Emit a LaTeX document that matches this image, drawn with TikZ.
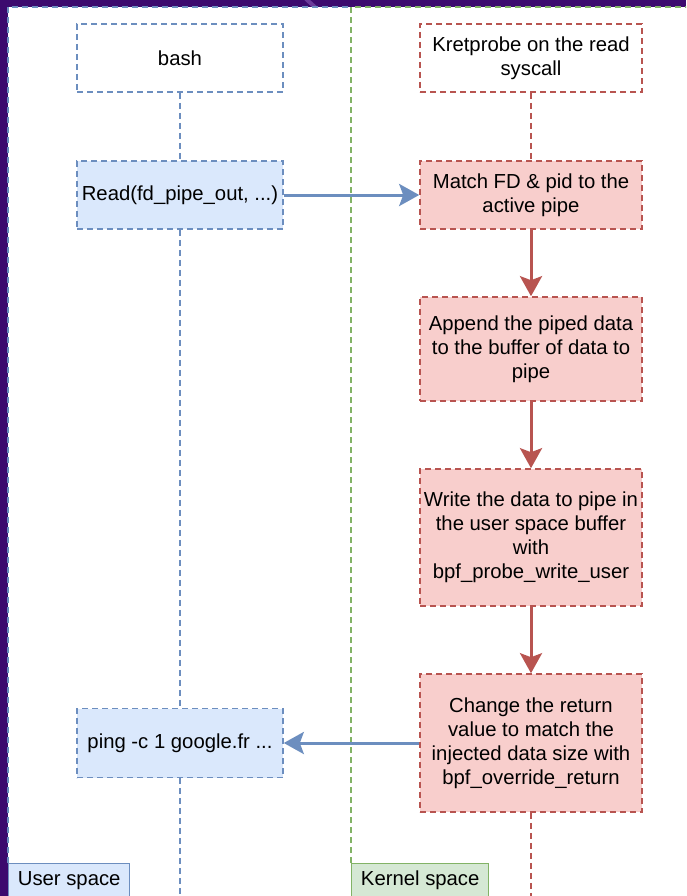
\documentclass[tikz,border=0pt]{standalone}
\usepackage{fontspec}
\setmainfont{Liberation Sans}
\usetikzlibrary{arrows.meta}
\definecolor{bgpurple}{HTML}{3C0A6E}
\definecolor{streak}{HTML}{6A3A9A}
\definecolor{userblue}{HTML}{6C8EBF}
\definecolor{userfill}{HTML}{DAE8FC}
\definecolor{kernred}{HTML}{B85450}
\definecolor{kernfill}{HTML}{F8CECC}
\definecolor{lanegreen}{HTML}{82B366}
\definecolor{lanefill}{HTML}{D5E8D4}

\begin{document}
\begin{tikzpicture}[x=1pt,y=-1pt,
  txt/.style={font=\fontsize{20.3}{24}\selectfont, align=center, inner sep=0pt},
  dashline/.style={line width=1.6pt, dash pattern=on 6pt off 4pt},
  ubox/.style={txt, dashline, draw=userblue, minimum width=206pt},
  kbox/.style={txt, dashline, draw=kernred, fill=kernfill, minimum width=222pt},
  flow/.style={line width=3pt, -{Stealth[length=20pt,width=22pt,inset=4pt]}},
  lanelabel/.style={txt, line width=1.4pt, minimum height=34pt, anchor=north west}
]
\useasboundingbox (0,0) rectangle (686,896);
\clip (0,0) rectangle (686,896);

% backdrop and canvas
\fill[bgpurple] (0,0) rectangle (686,896);
\draw[streak, line width=4pt] (306,-1) -- (316,8);
\fill[white] (8,7) rectangle (686,896);

% user space column
\node[ubox, fill=white, minimum height=68pt] (bash) at (180,58) {bash};
\node[ubox, fill=userfill, minimum height=68pt] (read) at (180,195) {Read(fd\_pipe\_out, ...)};
\node[ubox, fill=userfill, minimum height=69pt] (ping) at (180,743) {ping -c 1 google.fr ...};

% kernel space column
\node[kbox, fill=white, minimum height=68pt] (kprobe) at (531,58) {Kretprobe on the read\\syscall};
\node[kbox, minimum height=68pt] (match) at (531,195) {Match FD \& pid to the\\active pipe};
\node[kbox, minimum height=104pt] (append) at (531,349) {Append the piped data\\to the buffer of data to\\pipe};
\node[kbox, minimum height=137pt] (write) at (531,537.5) {Write the data to pipe in\\the user space buffer\\with\\bpf\_probe\_write\_user};
\node[kbox, minimum height=138pt] (change) at (531,743) {Change the return\\value to match the\\injected data size with\\bpf\_override\_return};

% lane labels
\node[lanelabel, draw=userblue, fill=userfill, minimum width=121pt] (ulabel) at (8,863) {User space};
\node[lanelabel, draw=lanegreen, fill=lanefill, minimum width=137pt] (klabel) at (351,863) {Kernel space};

% lane borders
\coordinate (ucorner) at (8,7);
\coordinate (kcorner) at (351,7);
\coordinate (kright) at (690,7);
\draw[dashline, userblue] (ulabel.north west) -- (ucorner) -- (kcorner);
\draw[dashline, lanegreen] (klabel.north west) -- (kcorner) -- (kright);

% lifelines
\coordinate (uend) at (180,900);
\coordinate (kend) at (531,900);
\draw[dashline, userblue] (bash) -- (read);
\draw[dashline, userblue] (read) -- (ping);
\draw[dashline, userblue] (ping) -- (uend);
\draw[dashline, kernred] (kprobe) -- (match);
\draw[dashline, kernred] (change) -- (kend);

% message flow
\draw[flow, userblue] (read) -- (match);
\draw[flow, kernred] (match) -- (append);
\draw[flow, kernred] (append) -- (write);
\draw[flow, kernred] (write) -- (change);
\draw[flow, userblue] (change) -- (ping);
\end{tikzpicture}
\end{document}
